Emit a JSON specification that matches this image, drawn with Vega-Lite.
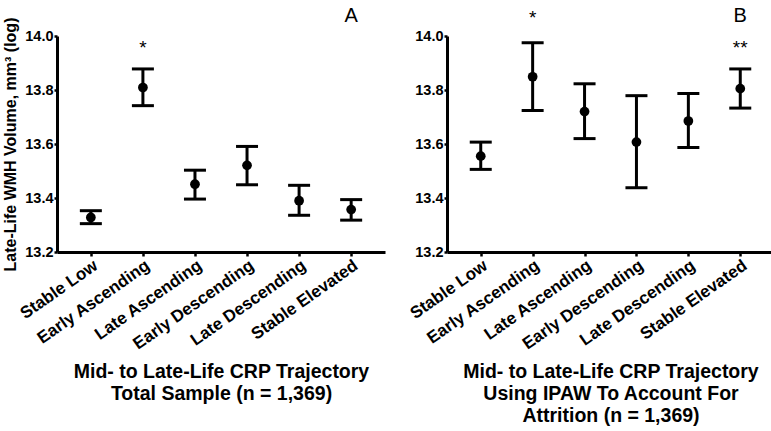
{
  "$schema": "https://vega.github.io/schema/vega-lite/v6.json",
  "padding": {"left": 2, "top": 5, "right": 2, "bottom": 0},
  "spacing": 21,
  "config": {
    "font": "Liberation Sans",
    "view": {"stroke": null},
    "axis": {"grid": false, "domainColor": "black", "domainWidth": 3, "tickColor": "black", "tickWidth": 2.5, "labelColor": "black", "titleColor": "black", "labelFont": "Liberation Sans", "titleFont": "Liberation Sans", "labelFontWeight": "bold", "titleFontWeight": "bold"}
  },
  "datasets": {
    "A": [
      {"group": "Stable Low", "mean": 13.328, "lo": 13.305, "hi": 13.353},
      {"group": "Early Ascending", "mean": 13.809, "lo": 13.742, "hi": 13.878},
      {"group": "Late Ascending", "mean": 13.451, "lo": 13.396, "hi": 13.503},
      {"group": "Early Descending", "mean": 13.521, "lo": 13.449, "hi": 13.591},
      {"group": "Late Descending", "mean": 13.39, "lo": 13.336, "hi": 13.447},
      {"group": "Stable Elevated", "mean": 13.357, "lo": 13.318, "hi": 13.394}
    ],
    "B": [
      {"group": "Stable Low", "mean": 13.555, "lo": 13.506, "hi": 13.607},
      {"group": "Early Ascending", "mean": 13.849, "lo": 13.724, "hi": 13.975},
      {"group": "Late Ascending", "mean": 13.72, "lo": 13.62, "hi": 13.823},
      {"group": "Early Descending", "mean": 13.607, "lo": 13.438, "hi": 13.779},
      {"group": "Late Descending", "mean": 13.685, "lo": 13.587, "hi": 13.787},
      {"group": "Stable Elevated", "mean": 13.805, "lo": 13.733, "hi": 13.878}
    ],
    "annA": [
      {"group": "Early Ascending", "y": 13.955, "label": "*", "kind": "star"},
      {"group": "Stable Elevated", "y": 14.075, "label": "A", "kind": "letter"}
    ],
    "annB": [
      {"group": "Early Ascending", "y": 14.065, "label": "*", "kind": "star"},
      {"group": "Stable Elevated", "y": 13.955, "label": "**", "kind": "star"},
      {"group": "Stable Elevated", "y": 14.075, "label": "B", "kind": "letter"}
    ]
  },
  "hconcat": [
    {
      "width": 328,
      "height": 216,
      "encoding": {
        "x": {
          "field": "group", "type": "nominal", "sort": null,
          "scale": {"type": "point", "padding": 0.65},
          "axis": {"title": ["Mid- to Late-Life CRP Trajectory", "Total Sample (n = 1,369)"], "titleFontSize": 19.5, "titleLineHeight": 22, "titlePadding": 11, "labelAngle": -35, "labelAlign": "right", "labelBaseline": "top", "labelFontSize": 17, "labelFontWeight": "bold", "tickSize": 4, "labelPadding": 1}
        }
      },
      "layer": [
        {
          "data": {"name": "A"},
          "mark": {"type": "rule", "color": "black", "strokeWidth": 3},
          "encoding": {
            "y": {"field": "lo", "type": "quantitative", "scale": {"domain": [13.2, 14.0], "nice": false, "zero": false}, "axis": {"title": "Late-Life WMH Volume, mm³ (log)", "titleFontSize": 16, "titlePadding": 6, "values": [13.2, 13.4, 13.6, 13.8, 14.0], "format": ".1f", "labelFontSize": 14.5, "labelFontWeight": "bold", "tickSize": 3, "labelPadding": 1}},
            "y2": {"field": "hi"}
          }
        },
        {
          "data": {"name": "A"},
          "mark": {"type": "tick", "color": "black", "opacity": 1, "size": 22, "thickness": 3},
          "encoding": {"y": {"field": "lo", "type": "quantitative"}}
        },
        {
          "data": {"name": "A"},
          "mark": {"type": "tick", "color": "black", "opacity": 1, "size": 22, "thickness": 3},
          "encoding": {"y": {"field": "hi", "type": "quantitative"}}
        },
        {
          "data": {"name": "A"},
          "mark": {"type": "circle", "color": "black", "opacity": 1, "size": 95},
          "encoding": {"y": {"field": "mean", "type": "quantitative"}}
        },
        {
          "data": {"name": "annA"},
          "mark": {"type": "text", "color": "black", "baseline": "middle", "align": "center"},
          "encoding": {
            "y": {"field": "y", "type": "quantitative"},
            "text": {"field": "label"},
            "size": {"field": "kind", "type": "nominal", "scale": {"domain": ["star", "letter"], "range": [19, 20]}, "legend": null}
          }
        }
      ]
    },
    {
      "width": 327,
      "height": 216,
      "encoding": {
        "x": {
          "field": "group", "type": "nominal", "sort": null,
          "scale": {"type": "point", "padding": 0.65},
          "axis": {"title": ["Mid- to Late-Life CRP Trajectory", "Using IPAW To Account For", "Attrition (n = 1,369)"], "titleFontSize": 19.5, "titleLineHeight": 22, "titlePadding": 11, "labelAngle": -35, "labelAlign": "right", "labelBaseline": "top", "labelFontSize": 17, "labelFontWeight": "bold", "tickSize": 4, "labelPadding": 1}
        }
      },
      "layer": [
        {
          "data": {"name": "B"},
          "mark": {"type": "rule", "color": "black", "strokeWidth": 3},
          "encoding": {
            "y": {"field": "lo", "type": "quantitative", "scale": {"domain": [13.2, 14.0], "nice": false, "zero": false}, "axis": {"title": null, "values": [13.2, 13.4, 13.6, 13.8, 14.0], "format": ".1f", "labelFontSize": 14.5, "labelFontWeight": "bold", "tickSize": 3, "labelPadding": 1}},
            "y2": {"field": "hi"}
          }
        },
        {
          "data": {"name": "B"},
          "mark": {"type": "tick", "color": "black", "opacity": 1, "size": 22, "thickness": 3},
          "encoding": {"y": {"field": "lo", "type": "quantitative"}}
        },
        {
          "data": {"name": "B"},
          "mark": {"type": "tick", "color": "black", "opacity": 1, "size": 22, "thickness": 3},
          "encoding": {"y": {"field": "hi", "type": "quantitative"}}
        },
        {
          "data": {"name": "B"},
          "mark": {"type": "circle", "color": "black", "opacity": 1, "size": 95},
          "encoding": {"y": {"field": "mean", "type": "quantitative"}}
        },
        {
          "data": {"name": "annB"},
          "mark": {"type": "text", "color": "black", "baseline": "middle", "align": "center"},
          "encoding": {
            "y": {"field": "y", "type": "quantitative"},
            "text": {"field": "label"},
            "size": {"field": "kind", "type": "nominal", "scale": {"domain": ["star", "letter"], "range": [19, 20]}, "legend": null}
          }
        }
      ]
    }
  ]
}
